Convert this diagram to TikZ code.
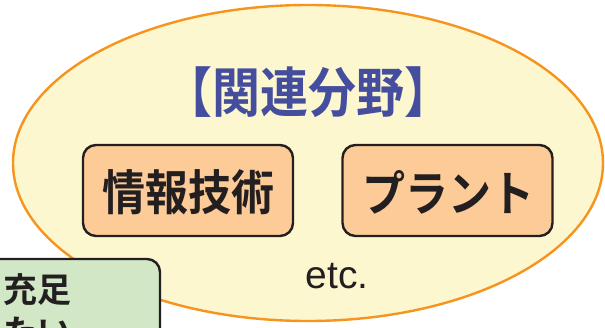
\documentclass[tikz,border=0pt]{standalone}
\usepackage{fontspec}
\setmainfont{Liberation Sans}
\newfontfamily\jp[BoldFont={* Bold}]{Noto Sans CJK JP}
\definecolor{ellfill}{RGB}{252,247,206}
\definecolor{ellline}{RGB}{247,148,30}
\definecolor{peach}{RGB}{253,203,152}
\definecolor{darkline}{RGB}{35,31,32}
\definecolor{greenfill}{RGB}{209,231,198}
\definecolor{titleblue}{RGB}{68,77,158}
\tikzset{
  field/.style={draw=ellline, line width=2.4pt, fill=ellfill},
  fieldbox/.style={draw=darkline, line width=2.4pt, fill=peach, rounded corners=13pt,
    minimum width=210pt, minimum height=91pt, inner sep=0pt},
  fieldtext/.style={font=\jp\bfseries\fontsize{43}{46}\selectfont, text=darkline},
  notebox/.style={draw=darkline, line width=2.4pt, fill=greenfill, rounded corners=13pt}
}
\begin{document}
\begin{tikzpicture}[x=1pt,y=1pt]
\useasboundingbox (0,0) rectangle (605,-327);
\clip (0,0) rectangle (605,-327);
\fill[white] (0,0) rectangle (605,-327);
\draw[field] (308,-163) ellipse [x radius=295, y radius=158];
\node[font=\jp\bfseries\fontsize{48}{50}\selectfont, text=titleblue] (title) at (308,-92) {\scalebox{1}[1.12]{【関連分野】}};
\node[fieldbox] (info) at (188,-190.5) {};
\node[fieldtext] (infot) at (188,-192) {\scalebox{1}[1.12]{情報技術}};
\node[fieldbox] (plant) at (447.5,-190.5) {};
\node[fieldtext] (plantt) at (448,-192) {\scalebox{1}[1.12]{プラント}};
\node[font=\fontsize{39}{40}\selectfont, text=darkline] (etc) at (337,-276) {etc.};
\draw[notebox] (-30,-259) rectangle (160,-380);
\node[anchor=north west, align=left, inner sep=0pt, font=\jp\bfseries\fontsize{34}{42}\selectfont, text=darkline] (note) at (-31,-273) {を充足\\したい};
\end{tikzpicture}
\end{document}
